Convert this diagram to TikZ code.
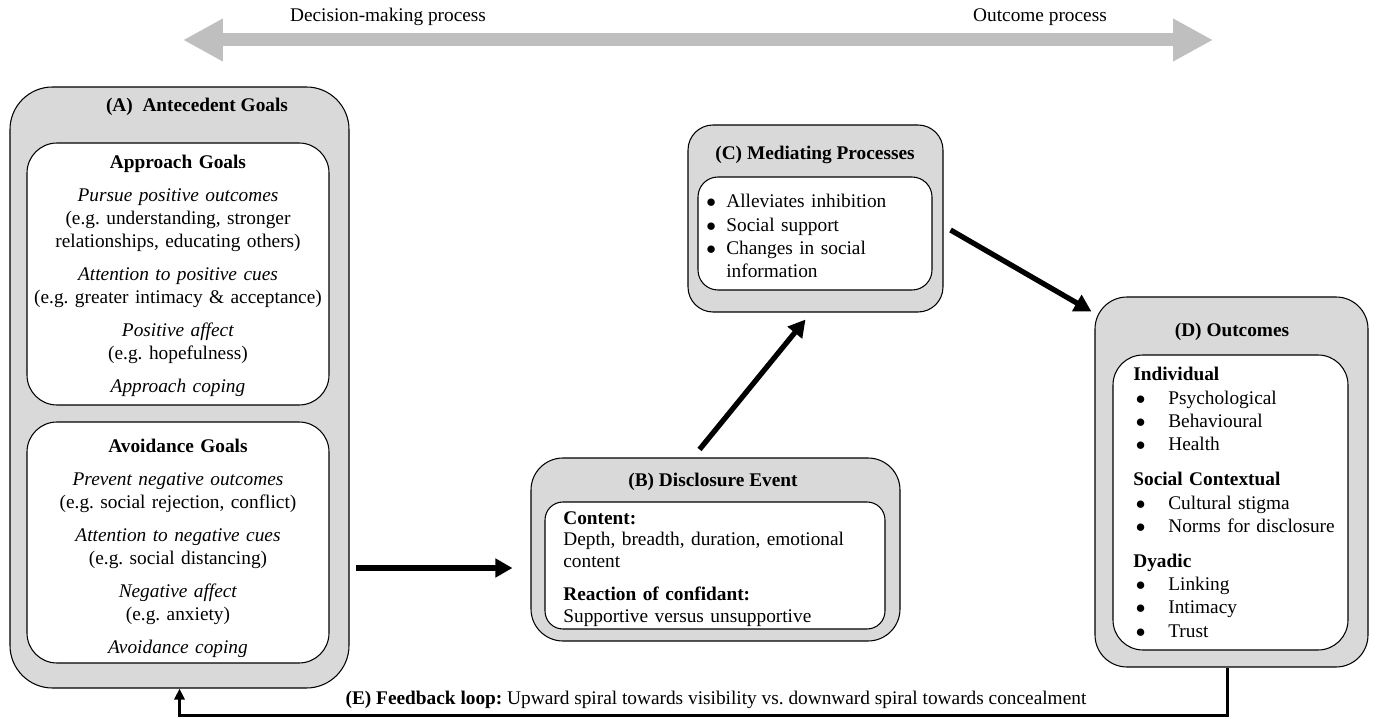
\documentclass[tikz,border=0pt]{standalone}
\usepackage{fontspec}
\setmainfont{Liberation Serif}
\usetikzlibrary{calc,arrows.meta,fit,positioning}
\frenchspacing
\colorlet{boxgray}{black!15}
\colorlet{procgray}{black!25}
\newcommand{\outitem}[1]{\makebox[0.7cm][l]{\hspace{0.05cm}$\bullet$}#1}
\newcommand{\meditem}[1]{\makebox[0.4cm][l]{$\bullet$}#1}

\tikzset{
  outerbox/.style={draw, line width=0.6pt, fill=boxgray, rounded corners=0.8cm, inner sep=0pt},
  innerbox/.style={draw, line width=0.6pt, fill=white, rounded corners=0.6cm, inner sep=0pt},
  boxtitle/.style={font=\fontsize{11}{13.3}\selectfont\bfseries, inner sep=0pt},
  boxtext/.style={font=\fontsize{11}{13.3}\selectfont, inner sep=0pt},
  flowarrow/.style={line width=3pt, -{Triangle[length=0.34cm,width=0.36cm]}},
  feedarrow/.style={line width=1.5pt, -{Triangle[length=0.22cm,width=0.2cm]}},
  procarrow/.style={line width=0.26cm, draw=procgray,
    {Triangle[length=0.8cm,width=0.8cm]}-{Triangle[length=0.8cm,width=0.8cm]}}
}

\begin{document}
\begin{tikzpicture}[x=0.02cm, y=-0.02cm]
  \useasboundingbox (0,0) rectangle (1376,719);

  % process direction along the top
  \coordinate (declft) at (183,40);
  \coordinate (outrgt) at (1213,40);
  \draw[procarrow] (declft) -- (outrgt);
  \node[boxtext] (declab) at (388,17) {Decision-making process};
  \node[boxtext] (outlab) at (1040,17) {Outcome process};

  % (A) antecedent goals, two inner panels
  \node[outerbox, rounded corners=0.85cm, fit={(10,87) (349,688)}] (A) {};
  \node[innerbox, fit={(27,143) (329,405)}] (A1) {};
  \node[innerbox, fit={(27,422) (329,663)}] (A2) {};
  \node[boxtitle] (Atitle) at (197,107) {(A)\ \ Antecedent Goals};
  \node[boxtext, anchor=north, text width=6cm, align=center] (A1text) at (178,155) {%
    \textbf{Approach Goals}\\[5.2pt]
    \textit{Pursue positive outcomes}\\ (e.g. understanding, stronger\\ relationships, educating others)\\[5.2pt]
    \textit{Attention to positive cues}\\ (e.g. greater intimacy \& acceptance)\\[5.2pt]
    \textit{Positive affect}\\ (e.g. hopefulness)\\[5.2pt]
    \textit{Approach coping}};
  \node[boxtext, anchor=north, text width=6cm, align=center] (A2text) at (178,439) {%
    \textbf{Avoidance Goals}\\[5.3pt]
    \textit{Prevent negative outcomes}\\ (e.g. social rejection, conflict)\\[5.3pt]
    \textit{Attention to negative cues}\\ (e.g. social distancing)\\[5.3pt]
    \textit{Negative affect}\\ (e.g. anxiety)\\[5.3pt]
    \textit{Avoidance coping}};

  % (B) disclosure event
  \node[outerbox, rounded corners=0.64cm, fit={(531,458) (900,641)}] (B) {};
  \node[innerbox, rounded corners=0.36cm, fit={(545,502) (885,629)}] (B1) {};
  \node[boxtitle] (Btitle) at (713,482) {(B) Disclosure Event};
  \node[boxtext, anchor=north west, text width=7cm, align=left,
    font=\fontsize{11}{12.4}\selectfont] (Btext) at (563,511) {%
    \textbf{Content:}\\ Depth, breadth, duration, emotional\\ content\\[6.5pt]
    \textbf{Reaction of confidant:}\\ Supportive versus unsupportive};

  % (C) mediating processes
  \node[outerbox, rounded corners=0.5cm, fit={(688,125) (943,312)}] (C) {};
  \node[innerbox, rounded corners=0.4cm, fit={(698,177) (932,290)}] (C1) {};
  \node[boxtitle] (Ctitle) at (815,155) {(C) Mediating Processes};
  \node[boxtext, anchor=north west, text width=4.5cm, align=left] (Ctext) at (706,194) {%
    \meditem{Alleviates inhibition}\\ \meditem{Social support}\\
    \meditem{Changes in social}\\ \hspace*{0.4cm}information};

  % (D) outcomes
  \node[outerbox, rounded corners=0.64cm, fit={(1095,297) (1368,667)}] (D) {};
  \node[innerbox, fit={(1113,355) (1348,650)}] (D1) {};
  \node[boxtitle] (Dtitle) at (1232,332) {(D) Outcomes};
  \node[boxtext, anchor=north west, text width=4.5cm, align=left] (Dtext) at (1133,367) {%
    \textbf{Individual}\\ \outitem{Psychological}\\ \outitem{Behavioural}\\ \outitem{Health}\\[6.5pt]
    \textbf{Social Contextual}\\ \outitem{Cultural stigma}\\ \outitem{Norms for disclosure}\\[6.5pt]
    \textbf{Dyadic}\\ \outitem{Linking}\\ \outitem{Intimacy}\\ \outitem{Trust}};

  % arrows between the stages
  \coordinate (flowy) at (0,568);
  \draw[flowarrow] ($(A.east |- flowy)+(6,0)$) -- ($(B.west |- flowy)+(-18,0)$);
  \draw[flowarrow] ($(B.north)+(-16,-8)$) -- ($(C.south)+(-10,7)$);
  \draw[flowarrow] ($(C.east)+(7,11.5)$) -- ($(D.north west)+(-3,15)$);

  % (E) feedback loop back to the goals
  \draw[feedarrow] ([xshift=-0.08cm]D.south) -- ++(0,48) -| (A.south);
  \node[boxtext] (feedlab) at (716,700) {\textbf{(E) Feedback loop:} Upward spiral towards visibility vs. downward spiral towards concealment};
\end{tikzpicture}
\end{document}
